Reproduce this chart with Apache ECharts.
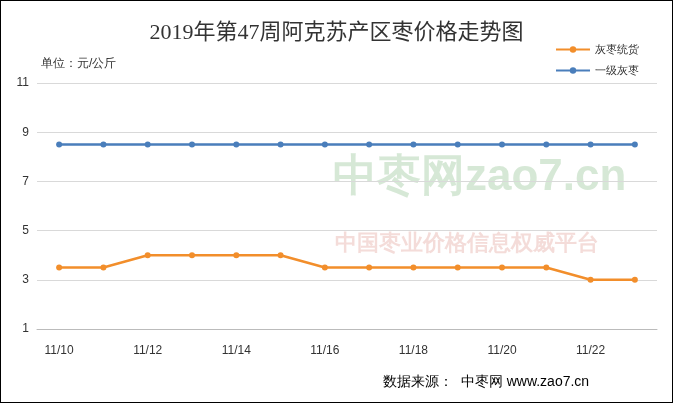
<!DOCTYPE html>
<html><head><meta charset="utf-8">
<script src="https://cdn.jsdelivr.net/npm/echarts@6/dist/echarts.min.js"></script>
<style>html,body{margin:0;padding:0;background:#fff}#c{width:673px;height:403px;box-sizing:border-box;border:1px solid #000}</style>
</head><body><div id="c"></div>
<script>
const categories=['11/10','11/11','11/12','11/13','11/14','11/15','11/16','11/17','11/18','11/19','11/20','11/21','11/22','11/23'];
const huizaoTonghuo=[3.5,3.5,4,4,4,4,3.5,3.5,3.5,3.5,3.5,3.5,3,3];
const yijiHuizao=[8.5,8.5,8.5,8.5,8.5,8.5,8.5,8.5,8.5,8.5,8.5,8.5,8.5,8.5];
const yTicks=[1,3,5,7,9,11];
const chart=echarts.init(document.getElementById('c'));
chart.setOption({
 animation:false,
 title:{text:'2019年第47周阿克苏产区枣价格走势图',left:'center',top:16,textStyle:{fontFamily:'Liberation Serif, Noto Sans CJK SC',fontWeight:'normal',fontSize:22,color:'#333'}},
 legend:{orient:'vertical',right:28,top:38,itemGap:10,itemWidth:34,itemHeight:8,textStyle:{fontSize:11,color:'#333'},data:['灰枣统货','一级灰枣']},
 grid:{left:36,right:15,top:82,bottom:73},
 graphic:[
  {type:'text',left:40,top:57,style:{text:'单位：元/公斤',fontSize:12,fill:'#333'}},
  {type:'text',left:332,top:155,z:-1,style:{text:'中枣网zao7.cn',fontSize:44,fontWeight:'bold',fill:'rgba(120,180,120,0.3)'}},
  {type:'text',left:334,top:232,z:-1,style:{text:'中国枣业价格信息权威平台',fontSize:22,fontWeight:'bold',fill:'rgba(220,140,130,0.3)',letterSpacing:3}},
  {type:'text',left:382,top:374,style:{text:'数据来源：  中枣网 www.zao7.cn',fontSize:14,fill:'#000'}}
 ],
 xAxis:{type:'category',data:categories,boundaryGap:true,axisTick:{show:false},axisLine:{lineStyle:{color:'#bbb'}},axisLabel:{interval:1,color:'#333',fontSize:12,margin:16}},
 yAxis:{type:'value',min:1,max:11,interval:2,axisLabel:{color:'#333',fontSize:12,formatter:v=>yTicks.includes(v)?v:''},splitLine:{lineStyle:{color:'#d9d9d9'}},axisLine:{show:false}},
 series:[
  {name:'灰枣统货',type:'line',data:huizaoTonghuo,symbol:'circle',symbolSize:6,color:'#f28e2b',lineStyle:{width:2.5,color:'#f28e2b'}},
  {name:'一级灰枣',type:'line',data:yijiHuizao,symbol:'circle',symbolSize:6,color:'#4a7ebb',lineStyle:{width:2.5,color:'#4a7ebb'}}
 ]
});
</script></body></html>
